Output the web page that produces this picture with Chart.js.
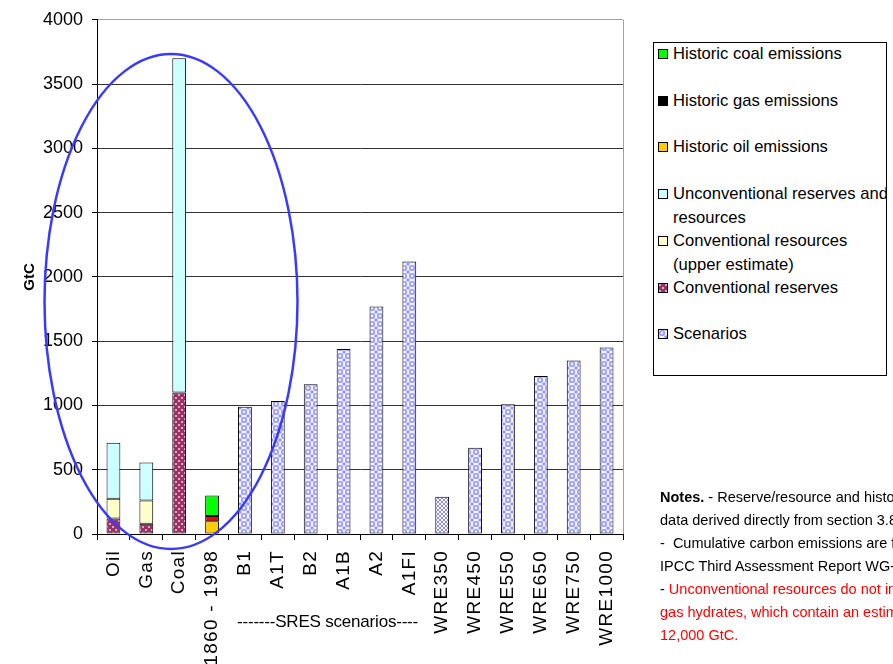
<!DOCTYPE html>
<html>
<head>
<meta charset="utf-8">
<script src="https://cdn.jsdelivr.net/npm/chart.js@4.4.0/dist/chart.umd.min.js"></script>
<style>
    html, body { margin: 0; padding: 0; background: #fff; overflow: hidden; }
    #wrap { position: relative; width: 893px; height: 664px; overflow: hidden;
            font-family: "Liberation Sans", Arial, sans-serif; color: #000; }
    #chart { position: absolute; left: 0; top: 0; }
    #legend { position: absolute; left: 653px; top: 42px; width: 234px; height: 334px;
              border: 1px solid #000; box-sizing: border-box; background: #fff; overflow: hidden; }
    .item { position: absolute; left: 0; font-size: 16.6px; line-height: 24px; white-space: nowrap; }
    .item canvas { position: absolute; left: 4px; top: 7px; }
    .item span { position: absolute; left: 19px; top: 0; }
    #sres { position: absolute; left: 237px; top: 611px; font-size: 17px; line-height: 22px;
            letter-spacing: -0.2px; white-space: nowrap; }
    #notes { position: absolute; left: 660px; top: 486px; font-size: 14.5px; line-height: 23px;
             white-space: nowrap; }
    #notes .red { color: #ff0000; }
</style>
</head>
<body>
<div id="wrap">
    <canvas id="chart" width="893" height="664"></canvas>
    <div id="legend"></div>
    <div id="sres">-------SRES scenarios----</div>
    <div id="notes">
        <div><b>Notes.</b> - Reserve/resource and historic emissions</div>
        <div>data derived directly from section 3.8.1 of the</div>
        <div>-&nbsp; Cumulative carbon emissions are from the</div>
        <div>IPCC Third Assessment Report WG-I.</div>
        <div><span>- </span><span class="red">Unconventional resources do not include</span></div>
        <div class="red">gas hydrates, which contain an estimated</div>
        <div class="red">12,000 GtC.</div>
    </div>
</div>
<script>
// Categorie e valori (GtC)
const categories = ['Oil', 'Gas', 'Coal', '1860 - 1998', 'B1', 'A1T', 'B2', 'A1B', 'A2', 'A1FI',
    'WRE350', 'WRE450', 'WRE550', 'WRE650', 'WRE750', 'WRE1000'];

const conventionalReserves  = [120, 80, 1100, null, null, null, null, null, null, null, null, null, null, null, null, null];
const conventionalResources = [155, 180, null, null, null, null, null, null, null, null, null, null, null, null, null, null];
const unconventional        = [435, 297, 2600, null, null, null, null, null, null, null, null, null, null, null, null, null];
const historicOil           = [null, null, null, 100, null, null, null, null, null, null, null, null, null, null, null, null];
const historicGas           = [null, null, null, 40, null, null, null, null, null, null, null, null, null, null, null, null];
const historicCoal          = [null, null, null, 160, null, null, null, null, null, null, null, null, null, null, null, null];
const scenarios             = [null, null, null, null, 990, 1035, 1165, 1440, 1770, 2120, 290, 670, 1010, 1230, 1350, 1450];

const yMin = 0;
const yMax = 4000;
const yStep = 500;

/**
 * Crea una piastrella per i pattern di riempimento
 */
function makeTile(size, draw) {
    const c = document.createElement('canvas');
    c.width = c.height = size;
    draw(c.getContext('2d'));
    return c;
}

const reserveTile = makeTile(6, g => {
    g.fillStyle = '#993366';
    g.fillRect(0, 0, 6, 6);
    g.fillStyle = '#dba6c4';
    g.fillRect(1, 1, 2, 2);
    g.fillRect(4, 4, 2, 2);
});

const scenarioTile = makeTile(8, g => {
    g.fillStyle = '#f6f6ff';
    g.fillRect(0, 0, 8, 8);
    g.strokeStyle = '#9393ff';
    g.lineWidth = 1.6;
    g.beginPath();
    g.arc(4, 4, 2.2, 0, Math.PI * 2);
    g.stroke();
    g.fillStyle = '#9393ff';
    g.fillRect(0, 0, 1.5, 1.5);
    g.fillRect(6.5, 6.5, 1.5, 1.5);
    g.fillRect(6.5, 0, 1.5, 1.5);
    g.fillRect(0, 6.5, 1.5, 1.5);
});

const hatchTile = makeTile(4, g => {
    g.fillStyle = '#ffffff';
    g.fillRect(0, 0, 4, 4);
    g.strokeStyle = '#8c8cff';
    g.lineWidth = 1;
    g.beginPath();
    g.moveTo(0, 0); g.lineTo(4, 4);
    g.moveTo(4, 0); g.lineTo(0, 4);
    g.stroke();
});

const canvas = document.getElementById('chart');
const ctx = canvas.getContext('2d');
const reservePattern = ctx.createPattern(reserveTile, 'repeat');
const scenarioPattern = ctx.createPattern(scenarioTile, 'repeat');
const hatchPattern = ctx.createPattern(hatchTile, 'repeat');

// WRE350 ha un tratteggio diverso
const scenarioFills = categories.map(c => c === 'WRE350' ? hatchPattern : scenarioPattern);

function barSet(label, data, fill) {
    return {
        label: label,
        data: data,
        backgroundColor: fill,
        borderColor: '#000',
        borderWidth: 1,
        borderSkipped: false,
        stack: 'all'
    };
}

// Ellisse blu, bordo destro, spaziatura delle etichette dell'asse x
const decorations = {
    id: 'decorations',
    beforeDatasetsDraw(chart) {
        const { ctx, chartArea } = chart;
        ctx.save();
        ctx.strokeStyle = '#a0a0a0';
        ctx.lineWidth = 1;
        ctx.beginPath();
        ctx.moveTo(Math.round(chartArea.right) + 0.5, chartArea.top);
        ctx.lineTo(Math.round(chartArea.right) + 0.5, chartArea.bottom);
        ctx.stroke();
        ctx.restore();
    },
    afterDatasetsDraw(chart) {
        // le etichette x (z: 1) vengono disegnate dopo questo hook
        chart.ctx.letterSpacing = '1.3px';
    },
    afterDraw(chart) {
        const ctx = chart.ctx;
        ctx.letterSpacing = '0px';
        ctx.save();
        ctx.strokeStyle = '#3a3aff';
        ctx.lineWidth = 2.5;
        ctx.beginPath();
        ctx.ellipse(171, 301.5, 126.5, 247.5, 0, 0, Math.PI * 2);
        ctx.stroke();
        ctx.restore();
    }
};

new Chart(ctx, {
    type: 'bar',
    data: {
        labels: categories,
        datasets: [
            barSet('Conventional reserves', conventionalReserves, reservePattern),
            barSet('Conventional resources (upper estimate)', conventionalResources, '#ffffcc'),
            barSet('Unconventional reserves and resources', unconventional, '#ccffff'),
            barSet('Historic oil emissions', historicOil, '#ffcc00'),
            barSet('Historic gas emissions', historicGas, '#ff0000'),
            barSet('Historic coal emissions', historicCoal, '#00ff00'),
            barSet('Scenarios', scenarios, scenarioFills)
        ]
    },
    options: {
        responsive: false,
        animation: false,
        devicePixelRatio: 1,
        layout: { padding: { top: 17, right: 270, left: 0, bottom: 0 } },
        datasets: { bar: { barPercentage: 0.42, categoryPercentage: 1.0 } },
        plugins: {
            legend: { display: false },
            tooltip: { enabled: false }
        },
        scales: {
            x: {
                stacked: true,
                afterFit: s => { s.height = 130; },
                grid: {
                    offset: true,
                    drawOnChartArea: false,
                    drawTicks: true,
                    tickLength: 6,
                    color: '#000'
                },
                border: { display: true, color: '#000', width: 1 },
                ticks: {
                    z: 1,
                    autoSkip: false,
                    minRotation: 90,
                    maxRotation: 90,
                    padding: 10,
                    color: '#000',
                    font: { family: '"Liberation Sans", Arial, sans-serif', size: 19 }
                }
            },
            y: {
                stacked: true,
                min: yMin,
                max: yMax,
                afterFit: s => { s.width = 97; },
                grid: {
                    color: c => c.tick && c.tick.value === yMax ? '#a0a0a0' : '#333',
                    lineWidth: 1,
                    tickLength: 5,
                    tickColor: '#000'
                },
                border: { display: true, color: '#000', width: 1 },
                ticks: {
                    stepSize: yStep,
                    padding: 9,
                    color: '#000',
                    callback: v => String(v),
                    font: { family: '"Liberation Sans", Arial, sans-serif', size: 18 }
                },
                title: {
                    display: true,
                    text: 'GtC',
                    color: '#000',
                    padding: { top: 21, bottom: 0 },
                    font: { family: '"Liberation Sans", Arial, sans-serif', size: 15, weight: 'bold' }
                }
            }
        }
    },
    plugins: [decorations]
});

// Legenda HTML (ordine come nell'originale)
const legendItems = [
    { text: 'Historic coal emissions', fill: '#00ff00', y: 54 },
    { text: 'Historic gas emissions', fill: '#000000', y: 101 },
    { text: 'Historic oil emissions', fill: '#ffcc00', y: 147 },
    { text: 'Unconventional reserves and<br>resources', fill: '#ccffff', y: 194 },
    { text: 'Conventional resources<br>(upper estimate)', fill: '#ffffcc', y: 241 },
    { text: 'Conventional reserves', fill: reserveTile, y: 288 },
    { text: 'Scenarios', fill: scenarioTile, y: 334 }
];

const legend = document.getElementById('legend');
legendItems.forEach(item => {
    const div = document.createElement('div');
    div.className = 'item';
    div.style.top = (item.y - 43 - 12) + 'px';
    const sym = document.createElement('canvas');
    sym.width = 10;
    sym.height = 10;
    const g = sym.getContext('2d');
    g.fillStyle = typeof item.fill === 'string' ? item.fill : g.createPattern(item.fill, 'repeat');
    g.fillRect(0, 0, 10, 10);
    g.strokeStyle = '#000';
    g.lineWidth = 1;
    g.strokeRect(0.5, 0.5, 9, 9);
    const span = document.createElement('span');
    span.innerHTML = item.text;
    div.appendChild(sym);
    div.appendChild(span);
    legend.appendChild(div);
});
</script>
</body>
</html>
